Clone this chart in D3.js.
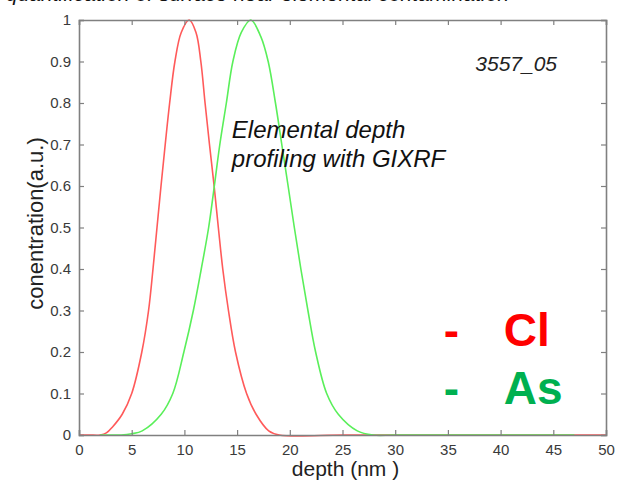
<!DOCTYPE html>
<html>
<head>
<meta charset="utf-8">
<script src="https://cdn.jsdelivr.net/npm/d3@7"></script>
<style>
  body { margin: 0; background: #fff; }
  svg { display: block; font-family: Arial, "Liberation Sans", sans-serif; }
</style>
</head>
<body>
<div id="chart-container"></div>
<script>
// chart values
const clDepth = [0, 1, 2, 2.6, 3.2, 4.1, 5.0, 5.96, 6.6, 7.02, 7.4, 7.78, 8.18, 8.6, 9.1, 9.7, 10.45, 11.1, 11.56, 11.96, 12.38, 12.82, 13.22, 13.64, 14.18, 14.85, 15.9, 16.8, 18.0, 19, 25, 30, 40, 50];
const clConc  = [0, 0, 0, 0.005, 0.02, 0.05, 0.1, 0.2, 0.3, 0.4, 0.5, 0.6, 0.7, 0.8, 0.9, 0.97, 1.0, 0.97, 0.9, 0.8, 0.7, 0.6, 0.5, 0.4, 0.3, 0.2, 0.1, 0.05, 0.01, 0, 0, 0, 0, 0];

const asDepth = [2, 4, 5, 6.0, 7.8, 8.9, 9.95, 10.85, 11.6, 12.3, 12.84, 13.36, 13.98, 14.6, 15.4, 16.3, 17.25, 17.95, 18.64, 19.24, 19.84, 20.43, 21.05, 21.72, 22.45, 23.5, 24.6, 26.4, 27.9, 30, 40, 47];
const asConc  = [0, 0, 0.003, 0.01, 0.05, 0.1, 0.2, 0.3, 0.4, 0.5, 0.6, 0.7, 0.8, 0.9, 0.97, 1.0, 0.96, 0.9, 0.8, 0.7, 0.6, 0.5, 0.4, 0.3, 0.2, 0.1, 0.05, 0.01, 0, 0, 0, 0];

const xTicks = [0, 5, 10, 15, 20, 25, 30, 35, 40, 45, 50];
const yTicks = [0, 0.1, 0.2, 0.3, 0.4, 0.5, 0.6, 0.7, 0.8, 0.9, 1];

// Set dimensions and margin for the chart
const W = 627, H = 487;
const margin = { top: 20, right: 21, bottom: 52, left: 79 };
const width = W - margin.left - margin.right;
const height = H - margin.top - margin.bottom;

const x = d3.scaleLinear().domain([0, 50]).range([0, width]);
const y = d3.scaleLinear().domain([0, 1]).range([height, 0]);

const root = d3.select("#chart-container")
  .append("svg")
    .attr("width", W)
    .attr("height", H);

// caption cut off at the very top (only its lower edge shows, as in the source)
root.append("text")
  .attr("x", 6)
  .attr("y", 1)
  .style("font-size", "21px")
  .style("font-style", "italic")
  .attr("fill", "#111")
  .text("quantification of surface near elemental contamination");

const svg = root.append("g")
  .attr("transform", `translate(${margin.left}, ${margin.top})`);

// lines
const line = d3.line()
  .x(d => x(d[0]))
  .y(d => y(d[1]))
  .curve(d3.curveCatmullRom.alpha(0.5));

svg.append("path")
  .datum(d3.zip(clDepth, clConc))
  .attr("fill", "none")
  .attr("stroke", "#ff5a5a")
  .attr("stroke-width", 1.6)
  .attr("d", line);

svg.append("path")
  .datum(d3.zip(asDepth, asConc))
  .attr("fill", "none")
  .attr("stroke", "#5aef5a")
  .attr("stroke-width", 1.6)
  .attr("d", line);

// axes, ticks pointing inward (matlab style)
const tickCol = "#808080";
const labCol = "#3a3a3a";

const xb = svg.append("g")
  .attr("transform", `translate(0, ${height})`)
  .call(d3.axisBottom(x).tickValues(xTicks).tickSize(-5).tickPadding(9).tickFormat(d3.format("d")));
const xt = svg.append("g")
  .call(d3.axisTop(x).tickValues(xTicks).tickSize(-5).tickFormat(""));
const yl = svg.append("g")
  .call(d3.axisLeft(y).tickValues(yTicks).tickSize(-5).tickPadding(8).tickFormat(d => d === 0 || d === 1 ? d3.format("d")(d) : d3.format(".1f")(d)));
const yr = svg.append("g")
  .attr("transform", `translate(${width}, 0)`)
  .call(d3.axisRight(y).tickValues(yTicks).tickSize(-5).tickFormat(""));

[xb, xt, yl, yr].forEach(g => {
  g.select(".domain").attr("stroke", tickCol).attr("stroke-width", 1.6);
  g.selectAll(".tick line").attr("stroke", tickCol).attr("stroke-width", 1.2);
  g.selectAll(".tick text")
    .attr("fill", labCol)
    .style("font-size", "15px")
    .style("font-family", "Arial, 'Liberation Sans', sans-serif");
});

// axis titles
svg.append("text")
  .attr("x", width / 2 + 3)
  .attr("y", height + 41)
  .attr("text-anchor", "middle")
  .attr("fill", "#222")
  .style("font-size", "21px")
  .text("depth (nm )");

svg.append("text")
  .attr("transform", `translate(${-36}, ${height / 2 - 4}) rotate(-90)`)
  .attr("text-anchor", "middle")
  .attr("fill", "#222")
  .style("font-size", "22px")
  .text("conentration(a.u.)");

// annotations
svg.append("text")
  .attr("x", x(37.6))
  .attr("y", 51)
  .style("font-size", "21px")
  .style("font-style", "italic")
  .attr("fill", "#222")
  .text("3557_05");

const note = svg.append("text")
  .style("font-size", "24px")
  .style("font-style", "italic")
  .attr("fill", "#111");
note.append("tspan").attr("x", x(14.5)).attr("y", 118).text("Elemental depth");
note.append("tspan").attr("x", x(14.5)).attr("y", 147).text("profiling with GIXRF");

// legend
const legend = [
  { name: "Cl", color: "#ff0000", y: 326 },
  { name: "As", color: "#00b050", y: 384 }
];
legend.forEach(l => {
  svg.append("text")
    .attr("x", x(34.6))
    .attr("y", l.y)
    .style("font-size", "46px")
    .style("font-weight", "bold")
    .attr("fill", l.color)
    .text("-");
  svg.append("text")
    .attr("x", x(40.3))
    .attr("y", l.y)
    .style("font-size", "46px")
    .style("font-weight", "bold")
    .attr("fill", l.color)
    .text(l.name);
});
</script>
</body>
</html>
